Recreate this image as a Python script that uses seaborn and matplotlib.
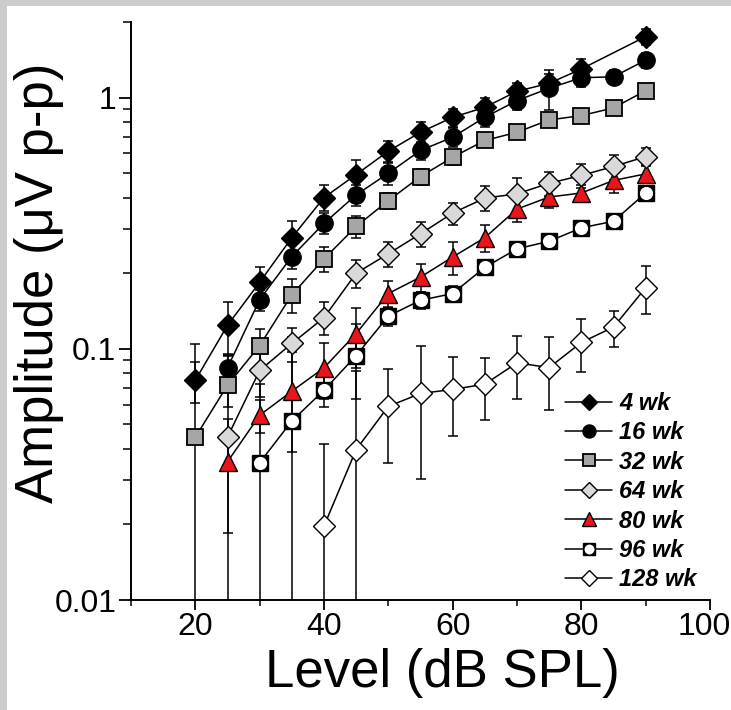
import matplotlib
matplotlib.use("Agg")
import matplotlib.pyplot as plt
from matplotlib.patches import Rectangle
from matplotlib.ticker import FixedLocator, NullFormatter
from matplotlib.lines import Line2D
from matplotlib.transforms import ScaledTranslation
import seaborn as sns
import pandas as pd

# ---------------- data ----------------
x_4 = [20, 25, 30, 35, 40, 45, 50, 55, 60, 65, 70, 75, 80, 90]
y_4 = [0.075, 0.124, 0.184, 0.277, 0.40, 0.494, 0.612, 0.728, 0.835, 0.915, 1.06, 1.14, 1.30, 1.75]
e_4 = [0.014, 0.029, 0.027, 0.045, 0.047, 0.07, 0.06, 0.07, 0.07, 0.08, 0.08, 0.1, 0.12, 0.13]

x_16 = [25, 30, 35, 40, 45, 50, 55, 60, 65, 70, 75, 80, 85, 90]
y_16 = [0.084, 0.157, 0.233, 0.316, 0.41, 0.50, 0.616, 0.696, 0.835, 0.973, 1.09, 1.20, 1.21, 1.41]
e_16 = [0.01, 0.015, 0.025, 0.03, 0.04, 0.05, 0.05, 0.06, 0.07, 0.08, 0.2, 0.1, 0.08, 0.1]

x_32 = [20, 25, 30, 35, 40, 45, 50, 55, 60, 65, 70, 75, 80, 85, 90]
y_32 = [0.0445, 0.0716, 0.103, 0.164, 0.228, 0.307, 0.389, 0.485, 0.579, 0.675, 0.728, 0.815, 0.848, 0.91, 1.066]
e_32 = [0.06, 0.013, 0.017, 0.025, 0.026, 0.03, 0.03, 0.035, 0.04, 0.04, 0.045, 0.05, 0.05, 0.06, 0.06]

x_64 = [25, 30, 35, 40, 45, 50, 55, 60, 65, 70, 75, 80, 85, 90]
y_64 = [0.0445, 0.082, 0.105, 0.133, 0.20, 0.239, 0.287, 0.347, 0.398, 0.414, 0.456, 0.49, 0.532, 0.582]
e_64 = [0.05, 0.018, 0.016, 0.02, 0.026, 0.028, 0.033, 0.035, 0.045, 0.065, 0.05, 0.055, 0.06, 0.05]

x_80 = [25, 30, 35, 40, 45, 50, 55, 60, 65, 70, 75, 80, 85, 90]
y_80 = [0.0355, 0.0544, 0.0678, 0.084, 0.115, 0.166, 0.193, 0.232, 0.277, 0.36, 0.402, 0.417, 0.468, 0.497]
e_80 = [0.017, 0.008, 0.029, 0.021, 0.031, 0.02, 0.025, 0.035, 0.035, 0.04, 0.04, 0.03, 0.05, 0.04]

x_96 = [30, 35, 40, 45, 50, 55, 60, 65, 70, 75, 80, 85, 90]
y_96 = [0.0352, 0.0516, 0.0684, 0.094, 0.135, 0.156, 0.166, 0.211, 0.25, 0.268, 0.303, 0.322, 0.417]
e_96 = [0.037, 0.06, 0.01, 0.031, 0.012, 0.012, 0.012, 0.015, 0.015, 0.015, 0.015, 0.015, 0.025]

x_128 = [40, 45, 50, 55, 60, 65, 70, 75, 80, 85, 90]
y_128 = [0.0197, 0.0397, 0.059, 0.0664, 0.0689, 0.0723, 0.0879, 0.0842, 0.106, 0.122, 0.175]
e_128 = [0.022, 0.042, 0.024, 0.036, 0.024, 0.02, 0.025, 0.027, 0.025, 0.02, 0.038]

labels = ["4 wk", "16 wk", "32 wk", "64 wk", "80 wk", "96 wk", "128 wk"]
x_ticks = [20, 40, 60, 80, 100]
x_minor = [10, 30, 50, 70, 90]
y_ticks = [0.01, 0.1, 1]
y_ticklabels = ["0.01", "0.1", "1"]

# ---------------- styling ----------------
sns.set_theme(style="ticks")
plt.rcParams["font.family"] = ["Liberation Sans", "DejaVu Sans"]
plt.rcParams["text.color"] = "black"

fig = plt.figure(figsize=(7.31, 7.10), dpi=100)
fig.patch.set_facecolor("white")
fig.patches.append(Rectangle((0, 1 - 6 / 710), 1, 6 / 710, transform=fig.transFigure,
                             facecolor="#cccccc", edgecolor="none", zorder=0))
fig.patches.append(Rectangle((0, 0), 7 / 731, 1, transform=fig.transFigure,
                             facecolor="#cccccc", edgecolor="none", zorder=0))

ax = fig.add_axes([131 / 731, 1 - 600 / 710, (710 - 131) / 731, (600 - 22) / 710])
ax.set_facecolor("white")

series = [
    dict(x=x_4, y=y_4, e=e_4, marker="D", ms=11.5, fc="black", ec="black", mew=1.0),
    dict(x=x_16, y=y_16, e=e_16, marker="o", ms=12.5, fc="black", ec="black", mew=1.0),
    dict(x=x_32, y=y_32, e=e_32, marker="s", ms=12, fc="#a6a6a6", ec="black", mew=1.3),
    dict(x=x_64, y=y_64, e=e_64, marker="D", ms=11.5, fc="#d9d9d9", ec="black", mew=1.0),
    dict(x=x_80, y=y_80, e=e_80, marker="^", ms=13, fc="#e8161b", ec="black", mew=1.0),
    dict(x=x_96, y=y_96, e=e_96, marker="s", ms=12, fc="black", ec="black", mew=1.0),
    dict(x=x_128, y=y_128, e=e_128, marker="D", ms=11.5, fc="white", ec="black", mew=1.0),
]
inner_ms = 9.5

# error bars first (behind markers)
for s in series:
    ax.errorbar(s["x"], s["y"], yerr=s["e"], fmt="none", ecolor="black",
                elinewidth=1.1, capsize=3.3, capthick=1.1, zorder=1)

draw_order = [6, 5, 4, 3, 2, 1, 0]
for i in draw_order:
    s = series[i]
    df = pd.DataFrame({"x": s["x"], "y": s["y"]})
    sns.lineplot(data=df, x="x", y="y", ax=ax, color="black", linewidth=1.1,
                 marker=s["marker"], markersize=s["ms"], markerfacecolor=s["fc"],
                 markeredgecolor=s["ec"], markeredgewidth=s["mew"], zorder=3 + (6 - i),
                 errorbar=None, legend=False)
    if i == 5:
        sns.lineplot(data=df, x="x", y="y", ax=ax, color="black", linewidth=0,
                     marker="o", markersize=inner_ms, markerfacecolor="white",
                     markeredgecolor="white", markeredgewidth=0, zorder=3 + (6 - i) + 0.5,
                     errorbar=None, legend=False)

# legend handles
leg_handles = []
for i, s in enumerate(series):
    h = Line2D([], [], color="black", linewidth=1.1, marker=s["marker"],
               markersize=s["ms"] * 0.75, markerfacecolor=s["fc"],
               markeredgecolor=s["ec"], markeredgewidth=s["mew"])
    if i == 5:
        h2 = Line2D([], [], color="none", linewidth=0, marker="o",
                    markersize=inner_ms * 0.75, markerfacecolor="white",
                    markeredgecolor="white", markeredgewidth=0)
        h = (h, h2)
    leg_handles.append(h)

ax.legend(leg_handles, labels, loc="upper left",
          bbox_to_anchor=(565 / 731, 1 - 392 / 710), bbox_transform=fig.transFigure,
          frameon=False, borderpad=0, borderaxespad=0, handlelength=2.0,
          handletextpad=0.3, labelspacing=0.27, labelcolor="black",
          prop=dict(family="Liberation Sans", weight="bold", style="italic", size=17))

# axes
ax.set_yscale("log")
ax.set_xlim(10, 100)
ax.set_ylim(0.01, 2.0)
ax.yaxis.set_major_locator(FixedLocator(y_ticks))
ax.set_yticklabels(y_ticklabels)
minor_y = [m * 10.0 ** k for k in (-2, -1, 0) for m in range(2, 10) if m * 10.0 ** k <= 2.0]
ax.yaxis.set_minor_locator(FixedLocator(minor_y))
ax.yaxis.set_minor_formatter(NullFormatter())
ax.xaxis.set_major_locator(FixedLocator(x_ticks))
ax.xaxis.set_minor_locator(FixedLocator(x_minor))

for side in ("top", "right"):
    ax.spines[side].set_visible(False)
for side in ("left", "bottom"):
    ax.spines[side].set_linewidth(1.4)
    ax.spines[side].set_color("black")

ax.tick_params(axis="y", which="major", direction="out", length=8.5, width=1.3,
               colors="black", labelsize=23, pad=2)
ax.tick_params(axis="y", which="minor", direction="out", length=5.5, width=1.1, colors="black")
ax.tick_params(axis="x", which="major", direction="out", length=7.5, width=1.3,
               colors="black", labelsize=23, pad=1)
ax.tick_params(axis="x", which="minor", direction="out", length=4.5, width=1.1, colors="black")

# keep the "100" label inside the figure
last = ax.get_xticklabels()[-1]
last.set_transform(last.get_transform() + ScaledTranslation(-6 / 100, 0, fig.dpi_scale_trans))

ax.set_xlabel("Level (dB SPL)", fontsize=38, color="black")
ax.set_ylabel("Amplitude (μV p-p)", fontsize=38, color="black")
ax.xaxis.set_label_coords((442 - 131) / 579, (600 - 648) / 578)
ax.yaxis.set_label_coords((64 - 131) / 579, (600 - 283) / 578)

fig.savefig("out.png", dpi=100, facecolor=fig.get_facecolor())
